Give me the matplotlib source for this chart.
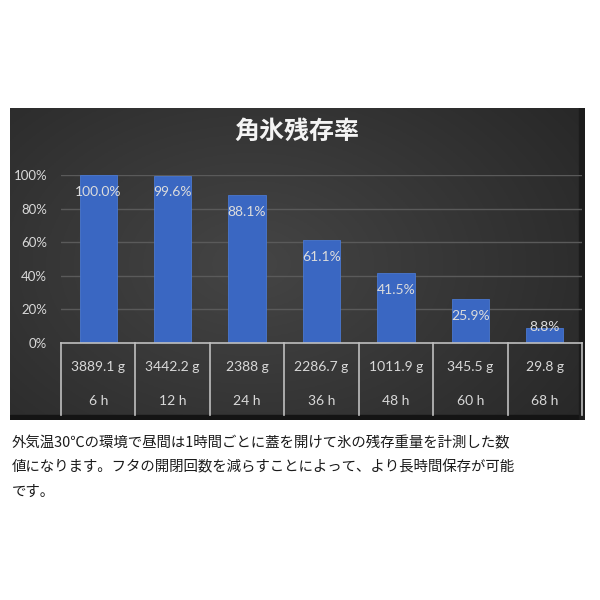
import numpy as np
import matplotlib.pyplot as plt
from matplotlib.patches import Rectangle

plt.rcParams['font.family'] = ['Noto Sans CJK JP', 'DejaVu Sans']

hours = ['6 h', '12 h', '24 h', '36 h', '48 h', '60 h', '68 h']
weights = ['3889.1 g', '3442.2 g', '2388 g', '2286.7 g', '1011.9 g', '345.5 g', '29.8 g']
ratio = [100.0, 99.6, 88.1, 61.1, 41.5, 25.9, 8.8]
yticks = [0, 20, 40, 60, 80, 100]

title = '角氷残存率'
caption = ['外気温30℃の環境で昼間は1時間ごとに蓋を開けて氷の残存重量を計測した数',
           '値になります。フタの開閉回数を減らすことによって、より長時間保存が可能',
           'です。']

fig = plt.figure(figsize=(6, 6), dpi=100)
fig.patch.set_facecolor('white')

# dark panel with soft gradient
bg = fig.add_axes([10/600, 1-420/600, 575/600, 312/600])
xx, yy = np.meshgrid(np.linspace(0, 1, 300), np.linspace(0, 1, 160))
r = np.sqrt(((xx-0.42)/0.8)**2 + ((yy-0.5)/1.0)**2)
shade = np.clip(0.27 - 0.13*r, 0.15, 0.27)
bg.imshow(np.dstack([shade]*3), aspect='auto', extent=[0, 1, 0, 1])
bg.add_patch(Rectangle((0, 0), 1, 0.015, color='#141414'))
bg.add_patch(Rectangle((0.99, 0), 0.01, 1, color='#1c1c1c'))
bg.set_xlim(0, 1); bg.set_ylim(0, 1)
bg.axis('off')

fig.text(297/600, 1-132/600, title, ha='center', va='center', color='#f4f4f4',
         fontsize=18, fontweight='bold')

ax = fig.add_axes([61/600, 1-343/600, 521/600, 168/600])
ax.patch.set_alpha(0)
x = np.arange(len(hours))
ax.bar(x, ratio, width=0.5, color='#3a67c2', edgecolor='#4a78d0', linewidth=0.6, zorder=3)
ax.set_xlim(-0.5, len(hours)-0.5)
ax.set_ylim(0, 100)
ax.set_yticks(yticks)
ax.set_yticklabels([f'{t}%' for t in yticks], family=['Lato', 'DejaVu Sans'],
                   fontsize=9.5, color='#d9d9d9')
ax.tick_params(axis='y', length=0, pad=10)
ax.set_xticks([])
for s in ax.spines.values():
    s.set_visible(False)
for t in yticks[1:]:
    ax.axhline(t, color='#5a5a5a', linewidth=1, zorder=1)

for i, v in enumerate(ratio):
    ly = v - 10 if v > 20 else v + 1
    ax.text(i, ly, f'{v:.1f}%', ha='center', va='center', color='#dcdcdc',
            fontsize=10, family=['Lato', 'DejaVu Sans'], zorder=4)

# data table under the axis
row1, row2, bottom = -14.3, -34.5, -43.0
ax.plot([-0.5, len(hours)-0.5], [0, 0], color='#bfbfbf', linewidth=1.2, clip_on=False, zorder=5)
for b in np.arange(len(hours)+1) - 0.5:
    ax.plot([b, b], [0, bottom], color='#bfbfbf', linewidth=1.2, clip_on=False)
for i in range(len(hours)):
    ax.text(i, row1, weights[i], ha='center', va='center', color='#d9d9d9',
            fontsize=10, family=['Lato', 'DejaVu Sans'], clip_on=False)
    ax.text(i, row2, hours[i], ha='center', va='center', color='#d9d9d9',
            fontsize=10, family=['Lato', 'DejaVu Sans'], clip_on=False)

for k, line in enumerate(caption):
    fig.text(12/600, 1-(443+24.5*k)/600, line, ha='left', va='center',
             color='#1a1a1a', fontsize=10.4)

fig.savefig('out.png', dpi=100, facecolor='white')
